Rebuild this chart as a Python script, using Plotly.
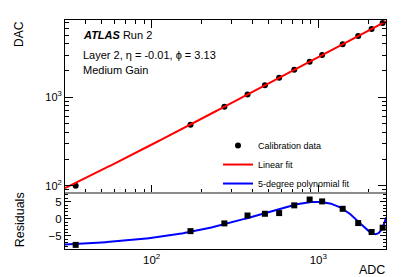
import numpy as np
import plotly.graph_objects as go

# ---- data ----
adc = [35, 171, 273, 376, 478, 582, 717, 887, 1054, 1400, 1735, 2088, 2431]
dac = [100, 489, 780, 1074, 1363, 1657, 2042, 2524, 2996, 3973, 4917, 5914, 6886]
residuals = [-7.6, -3.6, -1.35, 0.95, 1.45, 1.65, 3.9, 5.6, 5.05, 2.9, -1.25, -3.85, -2.6]

x_range = [30.2, 2547]
y_top_range = [82.8, 7464]
y_res_range = [-8.8, 7.5]
poly_degree = 5

# ---- fits ----
lin = np.polyfit(adc, dac, 1)
poly = np.polyfit(np.array(adc, dtype=float) / 1000.0, residuals, poly_degree)
xs = np.logspace(np.log10(x_range[0]), np.log10(x_range[1]), 400)
lin_y = np.polyval(lin, xs)
poly_y = np.polyval(poly, xs / 1000.0)

FONT = "Liberation Sans"
OFF = 8  # page body margin
W, H = 407 - OFF, 277 - OFF
# plot area in page pixels: left 65, right 386, top 19, bottom 250
ml, mr, mt, mb = 65 - OFF, 407 - 386, 19 - OFF, 277 - 250
ph = H - mt - mb
pw = W - ml - mr
split = (250 - 193.5) / ph

def px_x(p):  # page pixel -> paper x
    return (p - OFF - ml) / pw

def px_y(p):  # page pixel -> paper y
    return 1 - (p - OFF - mt) / ph

fig = go.Figure()
fig.add_trace(go.Scatter(x=adc, y=dac, mode="markers", name="Calibration data",
                         marker=dict(color="black", size=6, symbol="circle"),
                         xaxis="x", yaxis="y"))
fig.add_trace(go.Scatter(x=xs, y=lin_y, mode="lines", name="Linear fit",
                         line=dict(color="#ff0000", width=2), xaxis="x", yaxis="y"))
fig.add_trace(go.Scatter(x=xs, y=poly_y, mode="lines", name="5-degree polynomial fit",
                         line=dict(color="#0000ff", width=2), xaxis="x2", yaxis="y2"))
fig.add_trace(go.Scatter(x=adc, y=residuals, mode="markers", showlegend=False,
                         marker=dict(color="black", size=6, symbol="square"),
                         xaxis="x2", yaxis="y2"))

axcommon = dict(showline=True, linecolor="black", linewidth=1, mirror="allticks",
                ticks="inside", showgrid=False, zeroline=False, tickcolor="black")

fig.update_layout(
    width=W, height=H, margin=dict(l=ml, r=mr, t=mt, b=mb),
    paper_bgcolor="white", plot_bgcolor="white",
    font=dict(family=FONT, color="black"),
    xaxis=dict(type="log", range=[np.log10(x_range[0]), np.log10(x_range[1])],
               domain=[0, 1], anchor="y", showticklabels=False, dtick=1,
               ticklen=8, minor=dict(ticks="inside", ticklen=4, dtick="D1", tickcolor="black"),
               **axcommon),
    yaxis=dict(type="log", range=[np.log10(y_top_range[0]), np.log10(y_top_range[1])],
               domain=[split, 1], anchor="x", tickvals=[100, 1000],
               ticktext=["10<sup>2</sup>", "10<sup>3</sup>"], ticklen=8,
               tickfont=dict(size=11),
               minor=dict(ticks="inside", ticklen=4, dtick="D1", tickcolor="black"),
               **axcommon),
    xaxis2=dict(type="log", range=[np.log10(x_range[0]), np.log10(x_range[1])],
                domain=[0, 1], anchor="y2", matches="x", tickvals=[100, 1000],
                ticktext=["10<sup>2</sup>", "10<sup>3</sup>"], tickfont=dict(size=11.5),
                showline=True, linecolor="black", linewidth=1, mirror=True,
                ticks="", showgrid=False, zeroline=False),
    yaxis2=dict(range=y_res_range, domain=[0, split], anchor="x2",
                tickvals=[-5, 0, 5], ticklen=6, tickfont=dict(size=11.5),
                minor=dict(ticks="inside", ticklen=3, dtick=1, tickcolor="black"),
                **axcommon),
    legend=dict(x=px_x(218), y=px_y(131), xanchor="left",
                yanchor="top", bgcolor="rgba(0,0,0,0)", font=dict(size=9, family=FONT),
                itemwidth=30, tracegroupgap=0),
    showlegend=True,
)

fig.add_shape(type="line", xref="paper", yref="paper", x0=0, x1=1,
              y0=split, y1=split, line=dict(color="#8c8c8c", width=2))

ann = [
    dict(text="<b><i>ATLAS</i></b> Run 2", x=px_x(81), y=px_y(34), size=11),
    dict(text="Layer 2, η = -0.01, ϕ = 3.13", x=px_x(81), y=px_y(54), size=11),
    dict(text="Medium Gain", x=px_x(81), y=px_y(69), size=11),
]
for a in ann:
    fig.add_annotation(text=a["text"], x=a["x"], y=a["y"], xref="paper", yref="paper",
                       xanchor="left", yanchor="middle", showarrow=False,
                       font=dict(size=a["size"], family=FONT, color="black"))

fig.add_annotation(text="DAC", textangle=-90, x=px_x(19), y=px_y(18), xref="paper",
                   yref="paper", xanchor="center", yanchor="top", showarrow=False,
                   font=dict(size=12, family=FONT, color="black"))
fig.add_annotation(text="Residuals", textangle=-90, x=px_x(20), y=px_y(221), xref="paper",
                   yref="paper", xanchor="center", yanchor="middle", showarrow=False,
                   font=dict(size=12.5, family=FONT, color="black"))
fig.add_annotation(text="ADC", x=px_x(387), y=px_y(271), xref="paper",
                   yref="paper", xanchor="right", yanchor="middle", showarrow=False,
                   font=dict(size=12.5, family=FONT, color="black"))

fig.write_html("out.html")
